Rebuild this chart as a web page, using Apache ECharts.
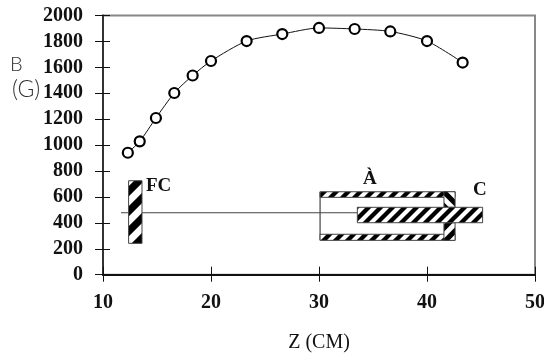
<!DOCTYPE html>
<html>
<head>
<meta charset="utf-8">
<style>html,body{margin:0;padding:0;background:#fff}#c{width:544px;height:356px}</style>
<script src="https://cdn.jsdelivr.net/npm/echarts@6/dist/echarts.min.js"></script>
</head>
<body>
<div id="c"></div>
<script>
var zValues = [12.3, 13.4, 14.9, 16.6, 18.3, 20.0, 23.3, 26.6, 30.0, 33.3, 36.6, 40.0, 43.3];
var bValues = [941, 1029, 1209, 1402, 1537, 1649, 1803, 1857, 1904, 1896, 1877, 1803, 1637];

// schematic parts in axis units: [z0, b0, z1, b1, hatch]
var fcPart = [12.37, 725, 13.61, 242, 'wide'];
var upperWall = [30.1, 640, 42.6, 597, 'fine'];
var lowerWall = [30.1, 312, 42.6, 265, 'fine'];
var rodPart = [33.55, 520, 45.15, 401, 'fine'];
var upperPlate = [41.57, 640, 42.6, 520, 'back'];
var lowerPlate = [41.57, 401, 42.6, 265, 'plate'];
var parts = [fcPart, upperWall, lowerWall, upperPlate, lowerPlate, rodPart];
var tubeEnd = [[30.1, 640], [30.1, 265]];
var axisWire = [[11.67, 478], [33.55, 478]];
var schematicLabels = [['FC', 15.15, 685], ['\u00C0', 34.7, 735], ['C', 44.9, 655]];

function hatch(p, back) {
  var s = 2, n = p * s, c = document.createElement('canvas');
  c.width = c.height = n;
  var g = c.getContext('2d');
  g.fillStyle = '#fff'; g.fillRect(0, 0, n, n);
  g.strokeStyle = '#000'; g.lineWidth = n * 0.36; g.lineCap = 'square';
  for (var i = -1; i <= 1; i++) {
    g.beginPath();
    if (back) { g.moveTo(i * n, 0); g.lineTo(i * n + n, n); }
    else { g.moveTo(i * n, n); g.lineTo(i * n + n, 0); }
    g.stroke();
  }
  var o = document.createElement('canvas');
  o.width = o.height = p;
  o.getContext('2d').drawImage(c, 0, 0, p, p);
  return { image: o, repeat: 'repeat' };
}
var fills = { fine: hatch(12), wide: hatch(20), back: hatch(14, true), plate: hatch(14) };

var serif = '"Liberation Serif"';
function plain(v) { return String(v); }
var chart = echarts.init(document.getElementById('c'), null, { renderer: 'canvas' });
chart.setOption({
  animation: false,
  backgroundColor: '#fff',
  grid: { left: 103, right: 9, top: 15.5, bottom: 81.3, outerBoundsMode: 'none', containLabel: false, show: true, borderColor: '#888', borderWidth: 2, backgroundColor: 'transparent' },
  xAxis: [{
    type: 'value', min: 10, max: 50, interval: 10,
    name: 'Z (CM)', nameLocation: 'middle', nameGap: 58,
    nameTextStyle: { fontFamily: serif, fontSize: 20, color: '#111' },
    axisLine: { onZero: false, lineStyle: { color: '#111', width: 2 } },
    axisTick: { show: true, length: 7, lineStyle: { color: '#111', width: 1 } },
    axisLabel: { formatter: plain, fontFamily: serif, fontWeight: 'bold', fontSize: 20, color: '#111', margin: 18, showMinLabel: true, showMaxLabel: true, hideOverlap: false },
    splitLine: { show: false }
  }, {
    type: 'value', min: 10, max: 50, interval: 10, position: 'bottom',
    axisLine: { show: false },
    axisTick: { show: true, inside: true, length: 8, lineStyle: { color: '#111', width: 1 } },
    axisLabel: { show: false }, splitLine: { show: false }
  }],
  yAxis: [{
    type: 'value', min: 0, max: 2000, interval: 200,
    axisLine: { show: true, onZero: false, lineStyle: { color: '#333', width: 2 } },
    axisTick: { show: true, length: 8, lineStyle: { color: '#111', width: 1 } },
    axisLabel: { formatter: plain, fontFamily: serif, fontWeight: 'bold', fontSize: 20, color: '#111', margin: 20 },
    splitLine: { show: false }
  }, {
    type: 'value', min: 0, max: 2000, interval: 200, position: 'left',
    axisLine: { show: false },
    axisTick: { show: true, inside: true, length: 7, lineStyle: { color: '#111', width: 1 } },
    axisLabel: { show: false }, splitLine: { show: false }
  }],
  graphic: [
    { type: 'text', left: 10, top: 55, style: { text: 'B', font: '300 20px Lato', fill: '#333' } },
    { type: 'text', left: 12, top: 78, style: { text: '(G)', font: '300 23px Lato', fill: '#333' } }
  ],
  series: [
    {
      type: 'line', data: axisWire, symbol: 'none', silent: true, z: 1,
      lineStyle: { color: '#444', width: 1.2 }
    },
    {
      type: 'line', data: tubeEnd, symbol: 'none', silent: true, z: 1,
      lineStyle: { color: '#444', width: 1.2 }
    },
    {
      type: 'custom', data: parts, silent: true, z: 2, clip: false,
      encode: { x: [0, 2], y: [1, 3] },
      renderItem: function (params, api) {
        var row = parts[params.dataIndex];
        var a = api.coord([row[0], row[1]]), b = api.coord([row[2], row[3]]);
        return {
          type: 'rect',
          shape: { x: a[0], y: a[1], width: b[0] - a[0], height: b[1] - a[1] },
          style: { fill: fills[row[4]], stroke: '#444', lineWidth: 1 }
        };
      }
    },
    {
      type: 'custom', data: schematicLabels, silent: true, z: 3, clip: false,
      encode: { x: 1, y: 2 },
      renderItem: function (params, api) {
        var row = schematicLabels[params.dataIndex];
        var a = api.coord([row[1], row[2]]);
        return {
          type: 'text', x: a[0], y: a[1],
          style: { text: row[0], fill: '#111', font: 'bold 19px ' + serif, align: 'center', verticalAlign: 'middle' }
        };
      }
    },
    {
      type: 'line', data: zValues.map(function (z, i) { return [z, bValues[i]]; }),
      smooth: 0.25, symbol: 'circle', symbolSize: 10, z: 5,
      lineStyle: { color: '#111', width: 1 },
      itemStyle: { color: '#fff', borderColor: '#000', borderWidth: 2.2 }
    }
  ]
});
</script>
</body>
</html>
